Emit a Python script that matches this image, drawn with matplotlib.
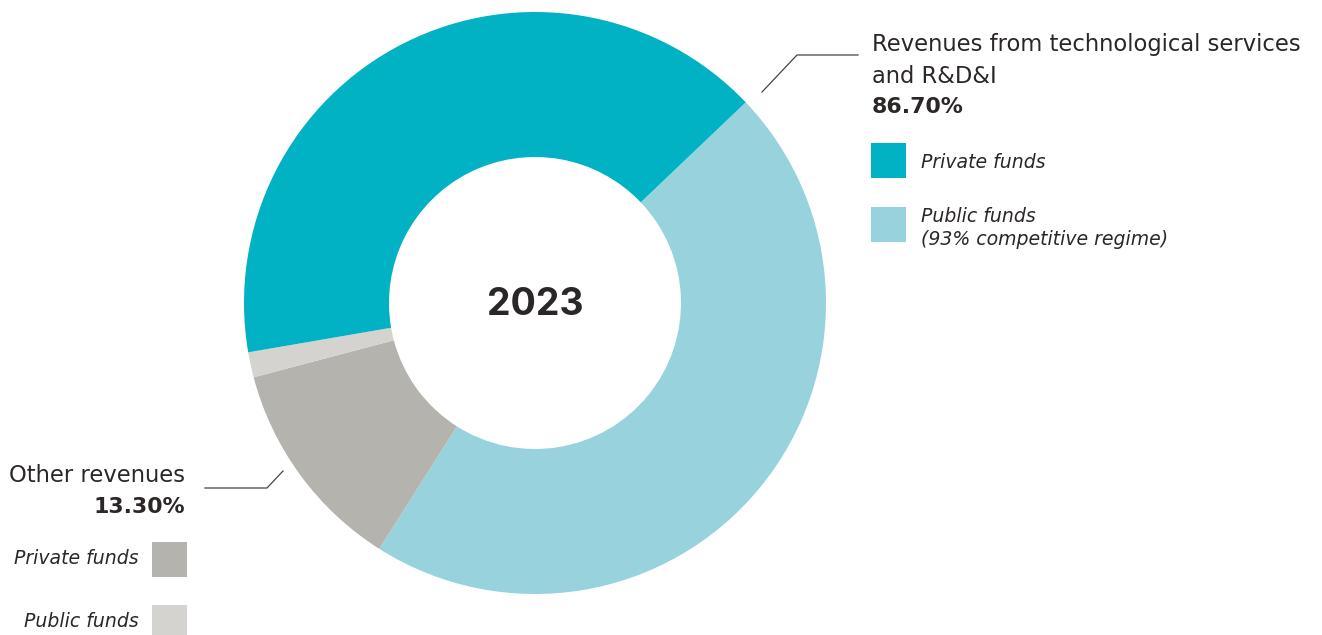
import matplotlib
matplotlib.use("Agg")
import matplotlib.pyplot as plt
from matplotlib.patches import Rectangle

# revenue split, 2023 (% of total)
groups = ["Revenues from technological services\nand R&D&I", "Other revenues"]
group_totals = [86.70, 13.30]
tech_labels = ["Private funds", "Public funds\n(93% competitive regime)"]
tech_values = [40.6, 46.1]
other_labels = ["Private funds", "Public funds"]
other_values = [11.9, 1.4]

TEAL, TEAL_LT = "#00b2c3", "#98d3dd"
GREY, GREY_LT = "#b4b3ae", "#d4d3cf"
INK = "#2b2726"
FONT = ["DejaVu Sans"]

W, H = 1322, 635
fig = plt.figure(figsize=(W / 100, H / 100), dpi=100)
ax = fig.add_axes([0, 0, 1, 1])

# y is flipped below, so counterclockwise in data space reads clockwise on screen
vals = [tech_values[1], other_values[0], other_values[1], tech_values[0]]
cols = [TEAL_LT, GREY, GREY_LT, TEAL]
ax.pie(vals, colors=cols, center=(535, 303), radius=291, startangle=-43.6,
       counterclock=True, wedgeprops=dict(width=145, linewidth=0), frame=True)
ax.set_xlim(0, W); ax.set_ylim(H, 0)  # pixel coords, y runs downward
ax.set_aspect("equal"); ax.axis("off")

ax.text(535, 315, "2023", ha="center", va="baseline", fontsize=27,
        fontweight="bold", color=INK, family=["Inter"])

def txt(x, y, s, ha="left", size=16.3, **kw):
    ax.text(x, y, s, ha=ha, va="baseline", fontsize=size, color=INK,
            family=FONT, **kw)

# right block: technological services
ax.plot([762, 797, 858], [92, 55, 55], color="#444444", lw=0.9)
for i, line in enumerate(groups[0].split("\n")):
    txt(872, 51 + 32 * i, line)
txt(872, 113, f"{group_totals[0]:.2f}%", size=15.8, fontweight="bold")
for lab, c, y in zip(tech_labels, [TEAL, TEAL_LT], [143, 207]):
    ax.add_patch(Rectangle((871, y), 35, 35, color=c, lw=0))
    lines = lab.split("\n")
    base = y + 25 if len(lines) == 1 else y + 15
    for j, line in enumerate(lines):
        txt(921, base + 23 * j, line, size=13.6, style="italic")

# left block: other revenues
ax.plot([205, 267, 283], [488, 488, 471], color="#444444", lw=0.9)
txt(185, 482, groups[1], ha="right")
txt(185, 513, f"{group_totals[1]:.2f}%", ha="right", size=15.8, fontweight="bold")
for lab, c, y in zip(other_labels, [GREY, GREY_LT], [542, 605]):
    ax.add_patch(Rectangle((152, y), 35, 35, color=c, lw=0))
    txt(139, y + 22, lab, ha="right", size=13.6, style="italic")

fig.savefig("out.png", dpi=100, facecolor="white")
